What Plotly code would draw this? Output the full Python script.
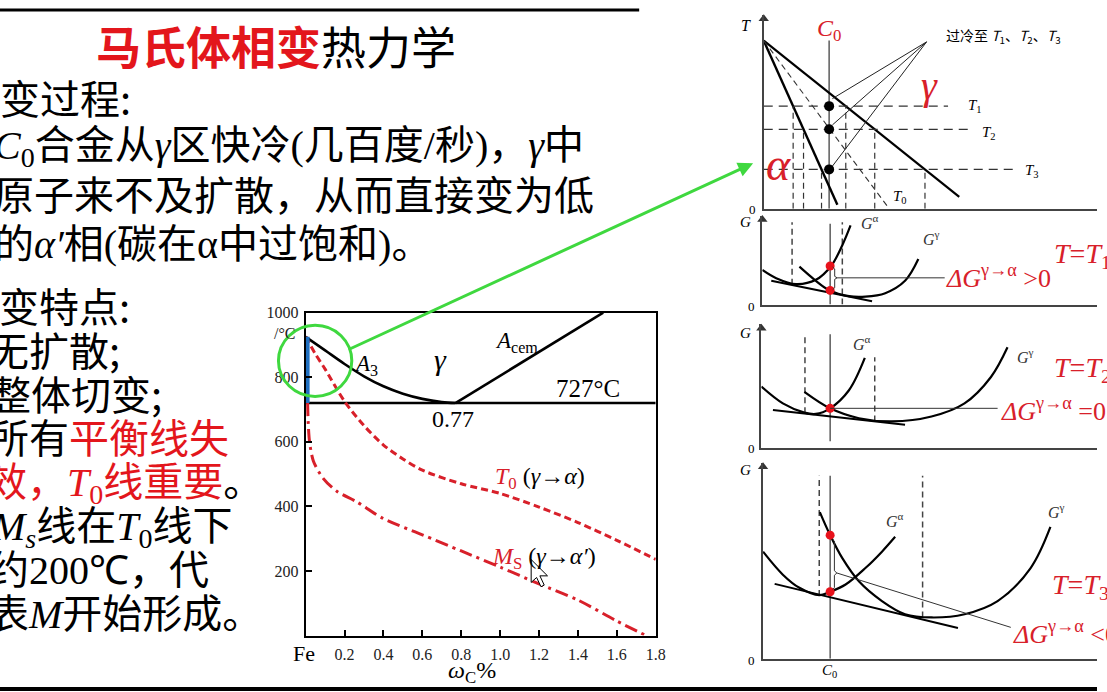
import plotly.graph_objects as go
import numpy as np

W, H = 1107, 692

# ---------------- main phase-diagram data ----------------
carbon_ticks = [0.2, 0.4, 0.6, 0.8, 1.0, 1.2, 1.4, 1.6, 1.8]
carbon_tick_text = ["0.2", "0.4", "0.6", "0.8", "1.0", "1.2", "1.4", "1.6", "1.8"]
temp_ticks = [200, 400, 600, 800, 1000]
temp_tick_text = ["200", "400", "600", "800", "1000"]

a3_c = [0, 0.1, 0.2, 0.3, 0.4, 0.5, 0.6, 0.7, 0.77]
a3_t = [925, 883, 841, 803, 772, 749, 733, 723, 720]
acem_c = [0.77, 1.53]
acem_t = [720, 1000]
eutectoid_c = [0, 1.8]
eutectoid_t = [720, 720]
ferrite_c = [0.01, 0.01]
ferrite_t = [925, 720]
t0_c = [0, 0.05, 0.1, 0.2, 0.3, 0.4, 0.5, 0.6, 0.8, 1.0, 1.2, 1.4, 1.6, 1.8]
t0_t = [925, 872, 825, 725, 650, 590, 547, 512, 470, 440, 398, 350, 295, 236]
ms_c = [0.01, 0.013, 0.02, 0.04, 0.09, 0.16, 0.26, 0.4, 0.6, 0.8, 1.0, 1.2, 1.4, 1.6, 1.75]
ms_t = [720, 660, 600, 540, 487, 447, 415, 362, 312, 262, 212, 160, 110, 45, 0]

# ---------------- schematic T-C panel (arbitrary units) ----------------
tp_alpha_u, tp_alpha_v = [0, 74.3], [170, 4]
tp_gamma_u, tp_gamma_v = [0, 197.3], [170, 12]
tp_t0_u, tp_t0_v = [0, 124.3], [170, 3]
tp_c0 = 66
tp_c0_top = 170
tp_levels = [103.7, 80.3, 39.7]
tp_level_ends = [186, 209.3, 256]
tp_apex = (164.3, 168.7)
tp_tan_end_u = 69.3
tp_tan_end_v = [111.3, 84.7, 43]

# ---------------- G panels (arbitrary units) ----------------
g1_alpha_u = [0, 14, 34, 54, 69.4, 80.7, 89]
g1_alpha_v = [35, 26.7, 20.7, 25, 39, 60, 80]
g1_gamma_u = [37.4, 54, 67.4, 87.4, 104, 124, 144, 157.4]
g1_gamma_v = [38.3, 24, 14.5, 8.5, 8, 11.5, 24, 46]
g1_tan_u, g1_tan_v = [9, 110.7], [24, 3.3]
g1_c0 = 68.4
g1_dots_v = [39, 14.3]

g2_alpha_u = [0, 21.7, 43.4, 55, 69.4, 88.4, 104.4]
g2_alpha_v = [62, 45, 35.7, 34.3, 40, 58.3, 91]
g2_gamma_u = [43.4, 69.4, 98.4, 131.7, 171.7, 205, 231.7, 248.4]
g2_gamma_v = [56.7, 40, 30, 26.7, 31.7, 45, 71.7, 101.7]
g2_tan_u, g2_tan_v = [11.7, 145], [38.3, 23.3]
g2_c0 = 69.4
g2_dots_v = [40]

g3_alpha_u = [0, 20, 36.7, 56.7, 67.7, 83.3, 103.3, 120, 133.3]
g3_alpha_v = [108.3, 85, 71.7, 64.3, 67.7, 75, 91.7, 108.3, 123.3]
g3_gamma_u = [57.3, 67.7, 80, 96.7, 120, 143.3, 170, 203.3, 236.7, 270, 290]
g3_gamma_v = [148.3, 125, 101.7, 78.3, 58.3, 45, 41.7, 45, 58.3, 91.7, 133.3]
g3_tan_u, g3_tan_v = [11.7, 196.7], [75.7, 31]
g3_c0 = 67.7
g3_dots_v = [125, 67.7]

RED = "#d8202a"
TXTRED = "#e3161c"
SER = "font-family:Liberation Serif"


def PX(x):
    return x / W


def PY(y):
    return 1 - y / H


fig = go.Figure()

# ---------------- main chart ----------------
main = dict(xaxis="x", yaxis="y", mode="lines", hoverinfo="skip", showlegend=False, cliponaxis=False)
fig.add_trace(go.Scatter(x=a3_c, y=a3_t, line=dict(color="black", width=2.6, shape="spline"), **main))
fig.add_trace(go.Scatter(x=acem_c, y=acem_t, line=dict(color="black", width=2.6), **main))
fig.add_trace(go.Scatter(x=eutectoid_c, y=eutectoid_t, line=dict(color="black", width=2.6), **main))
fig.add_trace(go.Scatter(x=t0_c, y=t0_t, line=dict(color=RED, width=3, dash="7px,4px", shape="spline", smoothing=0.8), **main))
fig.add_trace(go.Scatter(x=ms_c, y=ms_t, line=dict(color=RED, width=3, dash="13px,5px,3px,5px", shape="spline", smoothing=0.8), **main))
fig.add_trace(go.Scatter(x=ferrite_c, y=ferrite_t, line=dict(color="#1f6fc0", width=4), **main))

fig.update_layout(
    xaxis=dict(domain=[308.45 / W, 661.7 / W], range=[0, 1.8], tickvals=carbon_ticks, ticktext=carbon_tick_text,
               ticks="inside", ticklen=6, tickwidth=1.5, tickcolor="black", showline=True, linewidth=2,
               linecolor="black", mirror=True, showgrid=False, zeroline=False,
               tickfont=dict(family="Liberation Serif", size=16, color="#222"), ticklabelstandoff=3),
    yaxis=dict(domain=[1 - 634.9 / H, 1 - 308.2 / H], range=[0, 1000], tickvals=temp_ticks, ticktext=temp_tick_text,
               ticks="inside", ticklen=6, tickwidth=1.5, tickcolor="black", showline=True, linewidth=2,
               linecolor="black", mirror=True, showgrid=False, zeroline=False,
               tickfont=dict(family="Liberation Serif", size=16, color="#222"), ticklabelstandoff=2),
)

# ---------------- schematic panels ----------------
panels = {
    # name: (origin_px_x, origin_px_y, top_px_y)
    "T": (770.7, 203, 7),
    "G1": (769.3, 300, 210),
    "G2": (768.3, 445, 320),
    "G3": (770.0, 658.3, 460),
}
axis_ids = {"T": 2, "G1": 3, "G2": 4, "G3": 5}
for name, (ox, oy, ty) in panels.items():
    i = axis_ids[name]
    fig.layout[f"xaxis{i}"] = dict(domain=[ox / W, 1], range=[0, W - ox], showline=True, linecolor="#444",
                                   linewidth=2, showgrid=False, zeroline=False, showticklabels=False, ticks="",
                                   anchor=f"y{i}")
    fig.layout[f"yaxis{i}"] = dict(domain=[1 - oy / H, 1 - ty / H], range=[0, oy - ty], showline=True,
                                   linecolor="#444", linewidth=2, showgrid=False, zeroline=False,
                                   showticklabels=False, ticks="", anchor=f"x{i}")


def add(panel, u, v, color="black", width=2, dash=None, shape="linear", mode="lines", marker=None):
    i = axis_ids[panel]
    kw = dict(x=u, y=v, xaxis=f"x{i}", yaxis=f"y{i}", mode=mode, hoverinfo="skip", showlegend=False,
              cliponaxis=False)
    if mode == "lines":
        kw["line"] = dict(color=color, width=width, dash=dash, shape=shape)
    else:
        kw["marker"] = marker
    fig.add_trace(go.Scatter(**kw))


# axis arrows
for name, (ox, oy, ty) in panels.items():
    add(name, [0], [oy - ty - 4], mode="markers",
        marker=dict(symbol="triangle-up", size=9, color="#333"))

# T panel
add("T", [tp_c0, tp_c0], [0, tp_c0_top], color="#666", width=1.6)
add("T", tp_alpha_u, tp_alpha_v, width=2.4)
add("T", tp_gamma_u, tp_gamma_v, width=2.2)
add("T", tp_t0_u, tp_t0_v, width=1.1, dash="6px,4px", color="#333")
for lv, le, tv in zip(tp_levels, tp_level_ends, tp_tan_end_v):
    add("T", [0, le], [lv, lv], width=1.2, dash="9px,6px", color="#333")
    ua = np.interp(lv, tp_alpha_v[::-1], tp_alpha_u[::-1])
    ug = np.interp(lv, tp_gamma_v[::-1], tp_gamma_u[::-1])
    add("T", [ua, ua], [0, lv], width=1.2, dash="6px,4px", color="#333")
    add("T", [ug, ug], [0, lv], width=1.2, dash="6px,4px", color="#333")
    add("T", [tp_apex[0], tp_tan_end_u], [tp_apex[1], tv], width=1.0, color="#222")
add("T", [tp_c0] * 3, tp_levels, mode="markers", marker=dict(size=10, color="black"))


# G panels
def gpanel(name, au, av, gu, gv, tu, tv, c0, dots):
    add(name, au, av, width=2.2, shape="spline")
    add(name, gu, gv, width=2.2, shape="spline")
    add(name, tu, tv, width=2.0)
    add(name, [c0] * len(dots), dots, mode="markers", marker=dict(size=9, color="#e8121b"))


# panel 1
add("G1", [30, 30], [20, 83.3], width=1.5, dash="6px,4px", color="#444")
add("G1", [80.7, 80.7], [0, 83.3], width=1.5, dash="6px,4px", color="#444")
add("G1", [g1_c0, g1_c0], [0, 81.7], width=1.2, color="#333")
gpanel("G1", g1_alpha_u, g1_alpha_v, g1_gamma_u, g1_gamma_v, g1_tan_u, g1_tan_v, g1_c0, g1_dots_v)
add("G1", [71, 73, 73, 75.5, 73, 73, 71], [38, 36, 28.5, 27, 25.5, 17, 15], width=1, color="#333")
add("G1", [75.5, 184], [27, 27], width=1, color="#333")

# panel 2
add("G2", [44, 44], [35, 115], width=1.5, dash="6px,4px", color="#444")
add("G2", [114.4, 114.4], [26.7, 91.7], width=1.5, dash="6px,4px", color="#444")
add("G2", [g2_c0, g2_c0], [6.7, 115], width=1.2, color="#333")
gpanel("G2", g2_alpha_u, g2_alpha_v, g2_gamma_u, g2_gamma_v, g2_tan_u, g2_tan_v, g2_c0, g2_dots_v)
add("G2", [g2_c0, 238.4], [40, 40], width=1, color="#333")

# panel 3
add("G3", [56.7, 56.7], [63.3, 185], width=1.5, dash="6px,4px", color="#444")
add("G3", [161, 161], [41.7, 185], width=1.5, dash="6px,4px", color="#444")
add("G3", [g3_c0, g3_c0], [0, 185], width=1.2, color="#333")
gpanel("G3", g3_alpha_u, g3_alpha_v, g3_gamma_u, g3_gamma_v, g3_tan_u, g3_tan_v, g3_c0, g3_dots_v)
add("G3", [70, 72, 72, 74.5, 72, 72, 70], [121, 119, 89, 86.7, 84.4, 72, 70], width=1, color="#333")
add("G3", [74.5, 250], [86.7, 31.7], width=1, color="#333")

# ---------------- annotations ----------------
ann = []


def T(x, y, text, size, color="black", family="Liberation Serif", xanchor="center", yanchor="middle"):
    ann.append(dict(x=PX(x), y=PY(y), xref="paper", yref="paper", text=text, showarrow=False,
                    font=dict(size=size, color=color, family=family), xanchor=xanchor, yanchor=yanchor))


# title & left text
CJK = "Noto Sans CJK SC"
FS = 40
T(95, 38, f'<span style="color:{TXTRED}"><b>马氏体相变</b></span>热力学', 45, family=CJK, xanchor="left")
T(-2, 90, "变过程:", FS, family=CJK, xanchor="left")
T(-8, 137, f'<span style="{SER}"><i>C</i><sub>0</sub></span>合金从<span style="{SER}"><i>γ</i></span>区快冷'
           f'<span style="{SER}">(</span>几百度<span style="{SER}">/</span>秒<span style="{SER}">)</span>，'
           f'<span style="{SER}"><i>γ</i></span>中', FS, family=CJK, xanchor="left")
T(-8, 187, "原子来不及扩散，从而直接变为低", FS, family=CJK, xanchor="left")
T(-8, 236, f'的<span style="{SER}"><i>α′</i></span>相<span style="{SER}">(</span>碳在'
           f'<span style="{SER}">α</span>中过饱和<span style="{SER}">)</span>。', FS, family=CJK, xanchor="left")

T(-3, 300, "变特点:", FS, family=CJK, xanchor="left")
T(-13, 345, "无扩散;", FS, family=CJK, xanchor="left")
T(-11, 389, "整体切变;", FS, family=CJK, xanchor="left")
T(-13, 433, f'所有<span style="color:{TXTRED}">平衡线失</span>', FS, family=CJK, xanchor="left")
T(-15, 478, f'<span style="color:{TXTRED}">效，<span style="{SER}"><i>T</i><sub>0</sub></span>线重要</span>。',
  FS, family=CJK, xanchor="left")
T(-11, 522, f'<span style="{SER}"><i>M</i><sub><i>s</i></sub></span>线在<span style="{SER}"><i>T</i><sub>0</sub></span>线下',
  FS, family=CJK, xanchor="left")
T(-13, 566, f'约<span style="{SER}">200℃</span>，代', FS, family=CJK, xanchor="left")
T(-13, 610, f'表<span style="{SER}"><i>M</i></span>开始形成。', FS, family=CJK, xanchor="left")

# main chart labels
T(288, 329, "/°C", 16, color="#222")
T(307, 653, "Fe", 22)
T(476, 672, "<i>ω</i><sub>C</sub>%", 24)
T(369, 361, "<i>A</i><sub>3</sub>", 23)
T(445, 356, "<i>γ</i>", 30)
T(521, 338, "<i>A</i><sub>cem</sub>", 23)
T(593, 385, "727°C", 25)
T(457, 416, "0.77", 24)
T(497, 476, f'<span style="color:{RED}"><i>T</i><sub>0</sub></span> (<i>γ</i>→<i>α</i>)', 24, xanchor="left")
T(494, 556, f'<span style="color:{RED}"><i>M</i><sub>S</sub></span> (<i>γ</i>→<i>α′</i>)', 24, xanchor="left")

# T panel labels
T(753, 18, "<i>T</i>", 16)
T(759, 204, "0", 13)
T(837, 22, "<i>C</i><sub>0</sub>", 24, color=RED)
T(953, 28, "过冷至 <i>T</i><sub>1</sub>、<i>T</i><sub>2</sub>、<i>T</i><sub>3</sub>", 14, family="Noto Sans CJK SC, Liberation Serif",
  xanchor="left")
T(938, 78, "<i>γ</i>", 40, color=RED)
T(786, 158, "<i>α</i>", 46, color=RED)
T(984, 99, "<i>T</i><sub>1</sub>", 15)
T(998, 126, "<i>T</i><sub>2</sub>", 15)
T(1041, 165, "<i>T</i><sub>3</sub>", 15)
T(908, 191, "<i>T</i><sub>0</sub>", 15)

# G panel labels
for gy, zy in [(216, 302), (329, 446), (467, 660)]:
    T(752, gy, "<i>G</i>", 15)
    T(758, zy, "0", 13)
T(878, 216, "<i>G</i><sup>α</sup>", 16, color="#333")
T(940, 233, "<i>G</i><sup>γ</sup>", 16, color="#333")
T(870, 339, "<i>G</i><sup>α</sup>", 16, color="#333")
T(1035, 352, "<i>G</i><sup>γ</sup>", 16, color="#333")
T(903, 518, "<i>G</i><sup>α</sup>", 16, color="#333")
T(1066, 509, "<i>G</i><sup>γ</sup>", 16, color="#333")
T(837, 671, "<i>C</i><sub>0</sub>", 15)

T(953, 272, "<i>ΔG</i><sup>γ→α</sup> >0", 26, color=RED, xanchor="left")
T(1062, 250, "<i>T</i>=<i>T</i><sub>1</sub>", 28, color=RED, xanchor="left")
T(1008, 406, "<i>ΔG</i><sup>γ→α</sup> =0", 26, color=RED, xanchor="left")
T(1062, 366, "<i>T</i>=<i>T</i><sub>2</sub>", 28, color=RED, xanchor="left")
T(1020, 632, "<i>ΔG</i><sup>γ→α</sup> <0", 26, color=RED, xanchor="left")
T(1060, 585, "<i>T</i>=<i>T</i><sub>3</sub>", 28, color=RED, xanchor="left")

# green arrow
ann.append(dict(x=PX(760), y=PY(157), xref="paper", yref="paper", ax=354 - 760, ay=344 - 157,
                axref="pixel", ayref="pixel", showarrow=True, arrowhead=2, arrowsize=1, arrowwidth=3,
                arrowcolor="#3fd83f", text=""))

# ---------------- shapes ----------------
shapes = []
shapes.append(dict(type="circle", xref="paper", yref="paper", x0=PX(281), x1=PX(355), y0=PY(393), y1=PY(321),
                   line=dict(color="#3fd83f", width=3)))
shapes.append(dict(type="line", xref="paper", yref="paper", x0=0, x1=PX(645), y0=PY(2), y1=PY(2),
                   line=dict(color="black", width=3)))
shapes.append(dict(type="line", xref="paper", yref="paper", x0=0, x1=1, y0=PY(689), y1=PY(689),
                   line=dict(color="black", width=4)))
# mouse cursor
cur = [(0, 0), (0, 21), (5, 16.5), (9, 25), (12, 23.5), (8, 15), (15, 15)]
tip = (536, 558)
path = "M " + " L ".join(f"{PX(tip[0] + dx * 1.1):.5f},{PY(tip[1] + dy * 1.1):.5f}" for dx, dy in cur) + " Z"
shapes.append(dict(type="path", xref="paper", yref="paper", path=path, fillcolor="white",
                   line=dict(color="black", width=1)))

fig.update_layout(width=W, height=H, margin=dict(l=0, r=0, t=0, b=0), paper_bgcolor="white",
                  plot_bgcolor="rgba(0,0,0,0)", annotations=ann, shapes=shapes, showlegend=False)

fig.write_html("out.html")
